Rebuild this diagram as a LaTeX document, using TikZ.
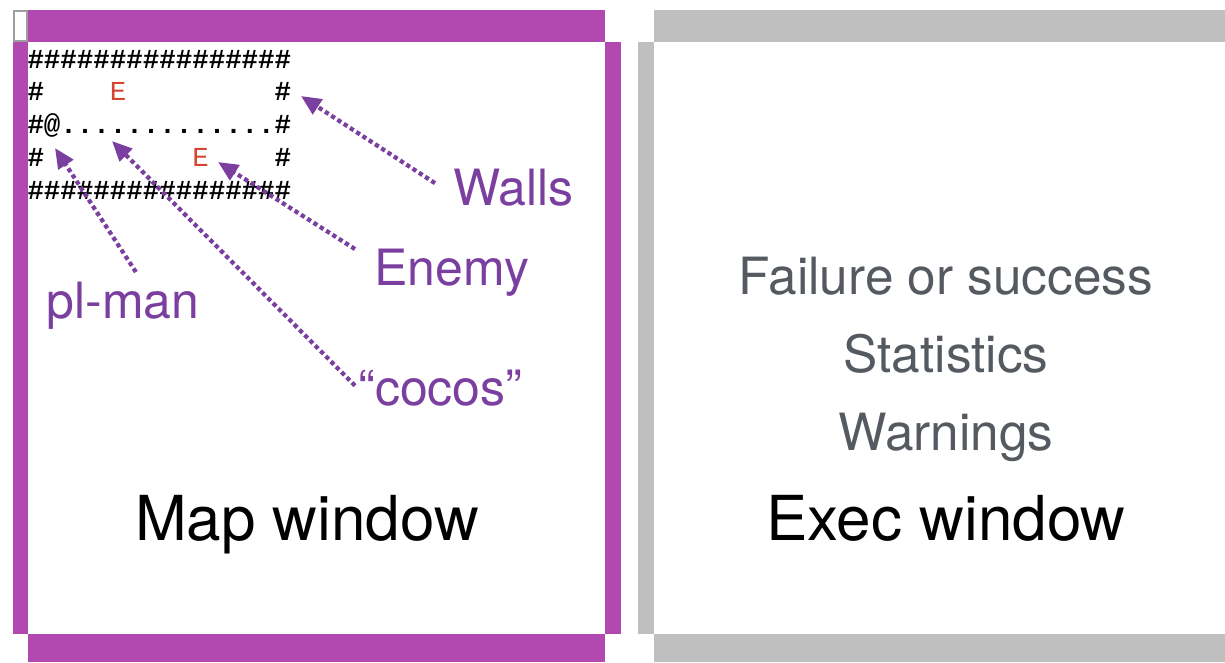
\documentclass[tikz,border=0pt]{standalone}
\usepackage{fontspec}
\setmainfont{TeX Gyre Heros}
\setmonofont{Liberation Mono}
\usetikzlibrary{arrows.meta}

\definecolor{mapframe}{RGB}{178,73,176}
\definecolor{execframe}{RGB}{191,191,191}
\definecolor{notepurple}{RGB}{123,63,160}
\definecolor{enemyred}{RGB}{214,68,48}
\definecolor{infogray}{RGB}{85,90,96}

\newcommand{\mapdots}{.............}
\newcommand{\mapenemy}{\textcolor{enemyred}{\mdseries E}}

\tikzset{every picture/.style={line width=0.75pt}}
\tikzset{
  note/.style={inner sep=0pt, anchor=base west, text=notepurple, font=\fontsize{37.5}{45}\selectfont},
  pointer/.style={draw=notepurple, line width=3.2pt, dash pattern=on 3.2pt off 2.4pt, -{Triangle[length=15pt,width=13pt]}},
  map row/.style={inner sep=0pt, anchor=base west, font=\ttfamily\bfseries\fontsize{20.6}{24}\selectfont},
  info/.style={inner sep=0pt, anchor=base, text=infogray, font=\fontsize{38.5}{46}\selectfont},
  title/.style={inner sep=0pt, anchor=base, font=\fontsize{46.5}{56}\selectfont},
}

\begin{document}
\begin{tikzpicture}[x=0.75pt,y=0.75pt,yscale=-1,xscale=1]
	\useasboundingbox (0,0) rectangle (1225,662);

	%Shape: Rectangle [map window frame]
	\fill[mapframe] (28,10) rectangle (605,42);
	\fill[mapframe] (13,42) rectangle (28,634);
	\fill[mapframe] (605,42) rectangle (621,634);
	\fill[mapframe] (28,634) rectangle (605,662);
	\draw[draw=gray!75, fill=white, line width=1.5pt] (14,11) rectangle (27.2,41.2);

	%Shape: Rectangle [exec window frame]
	\fill[execframe] (654,10) rectangle (1225,42);
	\fill[execframe] (638,42) rectangle (654,634);
	\fill[execframe] (654,634) rectangle (1225,662);

	% Map rows
	\foreach \cells [count=\r] in {
		{\#\#\#\#\#\#\#\#\#\#\#\#\#\#\#\#},
		{\#~~~~\mapenemy~~~~~~~~~\#},
		{\#@\mapdots\#},
		{\#~~~~~~~~~\mapenemy~~~~\#},
		{\#\#\#\#\#\#\#\#\#\#\#\#\#\#\#\#}}
		\node[map row] (mapRow\r) at (27,{68+(\r-1)*32.75}) {\cells};

	% Pointer tips
	\coordinate (wallTip) at (301,96);
	\coordinate (enemyTip) at (218,162);
	\coordinate (cocoTip) at (112,141);
	\coordinate (manTip) at (55,148);

	% Text Node
	\node[note] (walls) at (453,205) {Walls};
	% Text Node
	\node[note] (enemy) at (374,285) {Enemy};
	% Text Node
	\node[note] (plman) at (46,318) {pl-man};
	% Text Node
	\node[note] (cocos) at (358,405) {“cocos”};

	%Straight Lines [pointers]
	\draw[pointer] ([shift={(-18,-4)}]walls.west) -- (wallTip);
	\draw[pointer] ([shift={(-19,1)}]enemy.north west) -- (enemyTip);
	\draw[pointer] ([shift={(-3,-2)}]cocos.west) -- (cocoTip);
	\draw[pointer] ([shift={(13,-9)}]plman.north) -- (manTip);

	% Text Node
	\node[info] (failure) at (946,294) {Failure or success};
	% Text Node
	\node[info] (stats) at (946,372) {Statistics};
	% Text Node
	\node[info] (warnings) at (946,450) {Warnings};
	% Text Node
	\node[title] (mapTitle) at (307,540) {Map window};
	% Text Node
	\node[title] (execTitle) at (946,540) {Exec window};

\end{tikzpicture}
\end{document}
